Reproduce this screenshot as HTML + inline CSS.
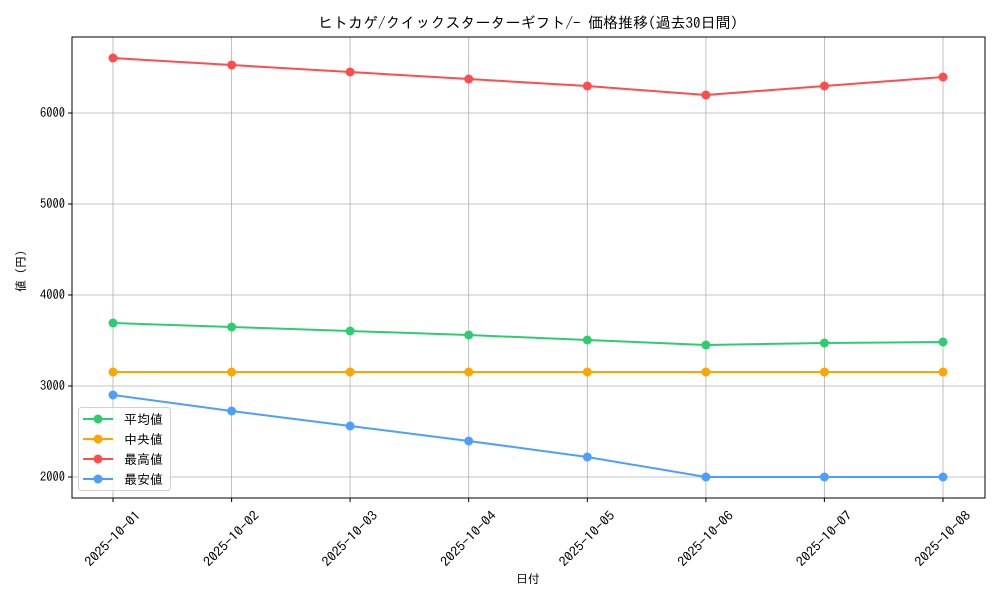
<!DOCTYPE html>
<html><head><meta charset="utf-8"><style>
html,body{margin:0;padding:0;background:#fff;}
svg{display:block;font-family:"IPAGothic","Noto Sans CJK JP",sans-serif;}
</style></head><body>
<svg width="1000" height="600" viewBox="0 0 1000 600" xmlns="http://www.w3.org/2000/svg">
<rect width="1000" height="600" fill="#fff"/>
<g stroke="#b0b0b0" stroke-width="0.8">
<line x1="113" y1="37" x2="113" y2="498"/>
<line x1="231.6" y1="37" x2="231.6" y2="498"/>
<line x1="350.1" y1="37" x2="350.1" y2="498"/>
<line x1="468.7" y1="37" x2="468.7" y2="498"/>
<line x1="587.3" y1="37" x2="587.3" y2="498"/>
<line x1="705.9" y1="37" x2="705.9" y2="498"/>
<line x1="824.4" y1="37" x2="824.4" y2="498"/>
<line x1="943" y1="37" x2="943" y2="498"/>
<line x1="72" y1="477" x2="985" y2="477"/>
<line x1="72" y1="386" x2="985" y2="386"/>
<line x1="72" y1="295" x2="985" y2="295"/>
<line x1="72" y1="204" x2="985" y2="204"/>
<line x1="72" y1="113" x2="985" y2="113"/>
</g>
<g stroke="#000" stroke-width="1">
<line x1="68" y1="477" x2="72" y2="477"/><line x1="68" y1="386" x2="72" y2="386"/>
<line x1="68" y1="295" x2="72" y2="295"/><line x1="68" y1="204" x2="72" y2="204"/><line x1="68" y1="113" x2="72" y2="113"/>
<line x1="113" y1="498" x2="113" y2="502"/><line x1="231.6" y1="498" x2="231.6" y2="502"/>
<line x1="350.1" y1="498" x2="350.1" y2="502"/><line x1="468.7" y1="498" x2="468.7" y2="502"/>
<line x1="587.3" y1="498" x2="587.3" y2="502"/><line x1="705.9" y1="498" x2="705.9" y2="502"/>
<line x1="824.4" y1="498" x2="824.4" y2="502"/><line x1="943" y1="498" x2="943" y2="502"/>
</g>
<g font-size="13" fill="#000" text-anchor="end">
<text x="65" y="481" textLength="25" lengthAdjust="spacingAndGlyphs">2000</text><text x="65" y="390" textLength="25" lengthAdjust="spacingAndGlyphs">3000</text><text x="65" y="299" textLength="25" lengthAdjust="spacingAndGlyphs">4000</text>
<text x="65" y="208" textLength="25" lengthAdjust="spacingAndGlyphs">5000</text><text x="65" y="117" textLength="25" lengthAdjust="spacingAndGlyphs">6000</text>
</g>
<g font-size="13" fill="#000" text-anchor="middle">
<text transform="translate(113,539) rotate(-45) translate(0,4)" textLength="72" lengthAdjust="spacingAndGlyphs">2025-10-01</text>
<text transform="translate(231.6,539) rotate(-45) translate(0,4)" textLength="72" lengthAdjust="spacingAndGlyphs">2025-10-02</text>
<text transform="translate(350.1,539) rotate(-45) translate(0,4)" textLength="72" lengthAdjust="spacingAndGlyphs">2025-10-03</text>
<text transform="translate(468.7,539) rotate(-45) translate(0,4)" textLength="72" lengthAdjust="spacingAndGlyphs">2025-10-04</text>
<text transform="translate(587.3,539) rotate(-45) translate(0,4)" textLength="72" lengthAdjust="spacingAndGlyphs">2025-10-05</text>
<text transform="translate(705.9,539) rotate(-45) translate(0,4)" textLength="72" lengthAdjust="spacingAndGlyphs">2025-10-06</text>
<text transform="translate(824.4,539) rotate(-45) translate(0,4)" textLength="72" lengthAdjust="spacingAndGlyphs">2025-10-07</text>
<text transform="translate(943,539) rotate(-45) translate(0,4)" textLength="72" lengthAdjust="spacingAndGlyphs">2025-10-08</text>
</g>
<text x="528" y="583" font-size="12" text-anchor="middle">日付</text>
<text transform="translate(25,268) rotate(-90)" font-size="12" text-anchor="middle">値（円）</text>
<text x="528" y="28" font-size="15" text-anchor="middle">ヒトカゲ/クイックスターターギフト/- 価格推移(過去30日間)</text>
<g fill="none" stroke-width="2">
<polyline stroke="#2ecc71" points="113,323 231.6,327 350.1,331 468.7,335 587.3,340 705.9,345 824.4,343 943,342"/>
<polyline stroke="#ffa500" points="113,372 231.6,372 350.1,372 468.7,372 587.3,372 705.9,372 824.4,372 943,372"/>
<polyline stroke="#ff4d4d" points="113,58 231.6,65 350.1,72 468.7,79 587.3,86 705.9,95 824.4,86 943,77"/>
<polyline stroke="#4d9fff" points="113,395 231.6,411 350.1,426 468.7,441 587.3,457 705.9,477 824.4,477 943,477"/>
</g>
<g fill="#2ecc71"><circle cx="113" cy="323" r="4.5"/><circle cx="231.6" cy="327" r="4.5"/><circle cx="350.1" cy="331" r="4.5"/><circle cx="468.7" cy="335" r="4.5"/><circle cx="587.3" cy="340" r="4.5"/><circle cx="705.9" cy="345" r="4.5"/><circle cx="824.4" cy="343" r="4.5"/><circle cx="943" cy="342" r="4.5"/></g>
<g fill="#ffa500"><circle cx="113" cy="372" r="4.5"/><circle cx="231.6" cy="372" r="4.5"/><circle cx="350.1" cy="372" r="4.5"/><circle cx="468.7" cy="372" r="4.5"/><circle cx="587.3" cy="372" r="4.5"/><circle cx="705.9" cy="372" r="4.5"/><circle cx="824.4" cy="372" r="4.5"/><circle cx="943" cy="372" r="4.5"/></g>
<g fill="#ff4d4d"><circle cx="113" cy="58" r="4.5"/><circle cx="231.6" cy="65" r="4.5"/><circle cx="350.1" cy="72" r="4.5"/><circle cx="468.7" cy="79" r="4.5"/><circle cx="587.3" cy="86" r="4.5"/><circle cx="705.9" cy="95" r="4.5"/><circle cx="824.4" cy="86" r="4.5"/><circle cx="943" cy="77" r="4.5"/></g>
<g fill="#4d9fff"><circle cx="113" cy="395" r="4.5"/><circle cx="231.6" cy="411" r="4.5"/><circle cx="350.1" cy="426" r="4.5"/><circle cx="468.7" cy="441" r="4.5"/><circle cx="587.3" cy="457" r="4.5"/><circle cx="705.9" cy="477" r="4.5"/><circle cx="824.4" cy="477" r="4.5"/><circle cx="943" cy="477" r="4.5"/></g>
<rect x="72" y="37" width="913" height="461" fill="none" stroke="#000" stroke-width="1"/>
<rect x="78.5" y="407.5" width="92" height="83" rx="3" fill="#fff" fill-opacity="0.8" stroke="#d0d0d0"/>
<g stroke-width="2">
<line x1="83" y1="419" x2="113" y2="419" stroke="#2ecc71"/><circle cx="98" cy="419" r="4.5" fill="#2ecc71"/>
<line x1="83" y1="439" x2="113" y2="439" stroke="#ffa500"/><circle cx="98" cy="439" r="4.5" fill="#ffa500"/>
<line x1="83" y1="459" x2="113" y2="459" stroke="#ff4d4d"/><circle cx="98" cy="459" r="4.5" fill="#ff4d4d"/>
<line x1="83" y1="479" x2="113" y2="479" stroke="#4d9fff"/><circle cx="98" cy="479" r="4.5" fill="#4d9fff"/>
</g>
<g font-size="13" fill="#000">
<text x="124" y="424">平均値</text><text x="124" y="444">中央値</text>
<text x="124" y="464">最高値</text><text x="124" y="484">最安値</text>
</g>
</svg>
</body></html>
